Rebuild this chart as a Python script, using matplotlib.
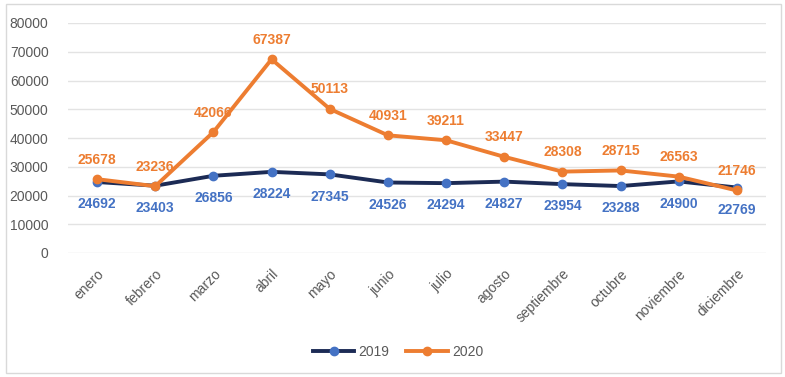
import matplotlib.pyplot as plt
import matplotlib as mpl

meses = ['enero', 'febrero', 'marzo', 'abril', 'mayo', 'junio', 'julio',
         'agosto', 'septiembre', 'octubre', 'noviembre', 'diciembre']
v2019 = [24692, 23403, 26856, 28224, 27345, 24526, 24294,
         24827, 23954, 23288, 24900, 22769]
v2020 = [25678, 23236, 42066, 67387, 50113, 40931, 39211,
         33447, 28308, 28715, 26563, 21746]
yticks = [0, 10000, 20000, 30000, 40000, 50000, 60000, 70000, 80000]

gris = '#595959'
azul = '#4472C4'
navy = '#1C2B55'
naranja = '#ED7D31'

plt.rcParams['font.family'] = ['Liberation Sans', 'DejaVu Sans']

fig = plt.figure(figsize=(7.85, 3.77), dpi=100)
fig.patch.set_facecolor('white')

# marco del grafico
marco = mpl.patches.Rectangle((6 / 785, 4 / 377), 775 / 785, 369 / 377,
                              transform=fig.transFigure, fill=False,
                              edgecolor='#D9D9D9', linewidth=1)
fig.patches.append(marco)

ax = fig.add_axes([68 / 785, 1 - 253 / 377, 698 / 785, 230 / 377])
x = list(range(len(meses)))

ax.plot(x, v2019, color=navy, linewidth=2.8, marker='o', markersize=6,
        markerfacecolor=azul, markeredgecolor=azul, label='2019', zorder=3)
ax.plot(x, v2020, color=naranja, linewidth=2.8, marker='o', markersize=6,
        markerfacecolor=naranja, markeredgecolor=naranja, label='2020', zorder=4)

for i, (a, b) in enumerate(zip(v2019, v2020)):
    ax.annotate(str(a), (i, a), xytext=(0, -11), textcoords='offset points',
                ha='center', va='top', color=azul, fontsize=10, fontweight='bold')
    ax.annotate(str(b), (i, b), xytext=(0, 9), textcoords='offset points',
                ha='center', va='bottom', color=naranja, fontsize=10,
                fontweight='bold')

ax.set_xlim(-0.5, len(meses) - 0.5)
ax.set_ylim(0, 80000)
ax.set_yticks(yticks)
ax.set_yticklabels([str(v) for v in yticks])
ax.set_xticks(x)
ax.set_xticklabels(meses, rotation=45, ha='right', rotation_mode='anchor')
ax.tick_params(axis='both', length=0, colors=gris, labelsize=10)
ax.tick_params(axis='y', pad=14)
ax.tick_params(axis='x', pad=10)

ax.grid(axis='y', color='#E3E3E3', linewidth=1)
ax.set_axisbelow(True)
for s in ax.spines.values():
    s.set_visible(False)

leg = fig.legend(loc='center', bbox_to_anchor=(398 / 785, 1 - 352 / 377),
                 ncol=2, frameon=False, fontsize=10, handlelength=3,
                 columnspacing=1.2, handletextpad=0.3)
for t in leg.get_texts():
    t.set_color(gris)

plt.savefig('out.png', dpi=100)
